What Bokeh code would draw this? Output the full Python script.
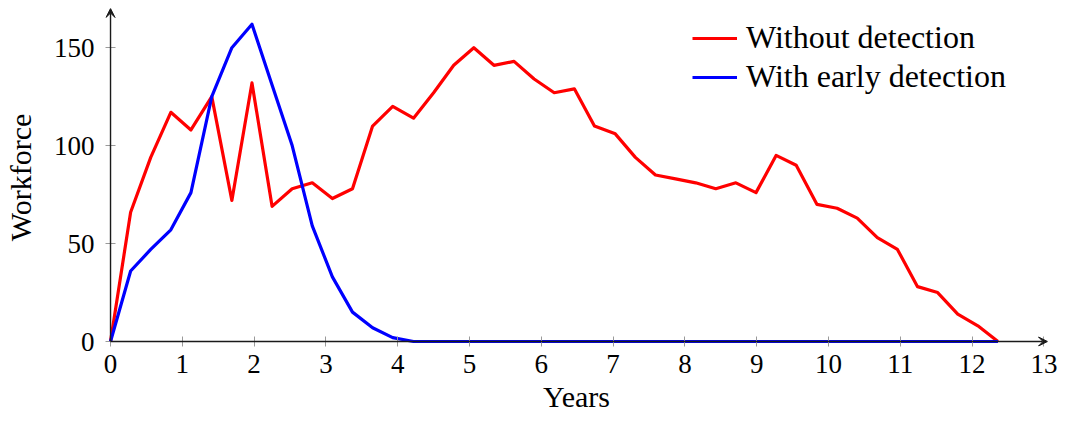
from bokeh.plotting import figure
from bokeh.models import Range1d, Arrow, VeeHead, FixedTicker, Legend, LegendItem
from bokeh.embed import file_html
from bokeh.resources import INLINE

# Data
years = [0.00, 0.28, 0.56, 0.84, 1.12, 1.41, 1.69, 1.97, 2.25, 2.53,
         2.81, 3.09, 3.37, 3.65, 3.93, 4.22, 4.50, 4.78, 5.06, 5.34,
         5.62, 5.90, 6.18, 6.46, 6.74, 7.03, 7.31, 7.59, 7.87, 8.15,
         8.43, 8.71, 8.99, 9.27, 9.55, 9.84, 10.12, 10.40, 10.68, 10.96,
         11.24, 11.52, 11.80, 12.08, 12.36]
without_detection = [0, 66, 94, 117, 108, 125, 72, 132, 69, 78,
                     81, 73, 78, 110, 120, 114, 127, 141, 150, 141,
                     143, 134, 127, 129, 110, 106, 94, 85, 83, 81,
                     78, 81, 76, 95, 90, 70, 68, 63, 53, 47,
                     28, 25, 14, 8, 0]
with_early_detection = [0, 36, 47, 57, 76, 125, 150, 162, 131, 100,
                        59, 33, 15, 7, 2, 0, 0, 0, 0, 0,
                        0, 0, 0, 0, 0, 0, 0, 0, 0, 0,
                        0, 0, 0, 0, 0, 0, 0, 0, 0, 0,
                        0, 0, 0, 0, 0]
series_names = ["Without detection", "With early detection"]
x_ticks = list(range(0, 14))
y_ticks = [0, 50, 100, 150]

FONT = "Liberation Serif"
# small padding below/left of the origin so that the axis arrows are not clipped
X_MIN, X_MAX = -0.07, 13.05
Y_MIN, Y_MAX = -2.55, 170
AXIS_COLOR = "#1a1a1a"

p = figure(output_backend="svg", toolbar_location=None,
           frame_width=942, frame_height=338,
           x_range=Range1d(X_MIN, X_MAX), y_range=Range1d(Y_MIN, Y_MAX),
           min_border_left=98, min_border_right=14,
           min_border_top=8, min_border_bottom=60)
p.outline_line_color = None
p.grid.visible = False
p.background_fill_color = "white"

r1 = p.line(years, without_detection, line_color="#ff0000", line_width=3.2, line_join="round")
r2 = p.line(years, with_early_detection, line_color="#0000ff", line_width=3.2, line_join="round")

for ax in (p.xaxis[0], p.yaxis[0]):
    ax.axis_line_color = None
    ax.major_tick_line_color = "#9a9a9a"
    ax.major_tick_line_width = 1
    ax.major_tick_in = 10
    ax.major_tick_out = 0
    ax.minor_tick_line_color = None
    ax.major_label_text_font = FONT
    ax.major_label_text_color = "black"
    ax.major_label_text_font_size = "27px"
    ax.axis_label_text_font = FONT
    ax.axis_label_text_font_style = "normal"
    ax.axis_label_text_color = "black"
    ax.axis_label_text_font_size = "30px"

p.xaxis.ticker = FixedTicker(ticks=x_ticks)
p.yaxis.ticker = FixedTicker(ticks=y_ticks)
p.xaxis.major_label_standoff = 8
p.yaxis.major_label_standoff = 11
p.xaxis.axis_label = "Years"
p.yaxis.axis_label = "Workforce"
p.xaxis.axis_label_standoff = 4
p.yaxis.axis_label_standoff = 14

# axis lines with arrow heads, through the origin
p.add_layout(Arrow(end=VeeHead(size=9, fill_color=AXIS_COLOR, line_color=AXIS_COLOR, line_width=1),
                   x_start=0, y_start=0, x_end=X_MAX, y_end=0,
                   line_color=AXIS_COLOR, line_width=1.4))
p.add_layout(Arrow(end=VeeHead(size=9, fill_color=AXIS_COLOR, line_color=AXIS_COLOR, line_width=1),
                   x_start=0, y_start=0, x_end=0, y_end=Y_MAX,
                   line_color=AXIS_COLOR, line_width=1.4))

legend = Legend(items=[LegendItem(label=series_names[0], renderers=[r1]),
                       LegendItem(label=series_names[1], renderers=[r2])],
                location=(587, 251), orientation="vertical",
                padding=0, margin=0, spacing=2,
                glyph_width=45, glyph_height=30, label_height=30,
                label_standoff=9,
                label_text_font=FONT, label_text_font_size="32px",
                label_text_color="black",
                border_line_color=None, background_fill_alpha=0)
p.add_layout(legend)

open("out.html", "w").write(file_html(p, INLINE))
